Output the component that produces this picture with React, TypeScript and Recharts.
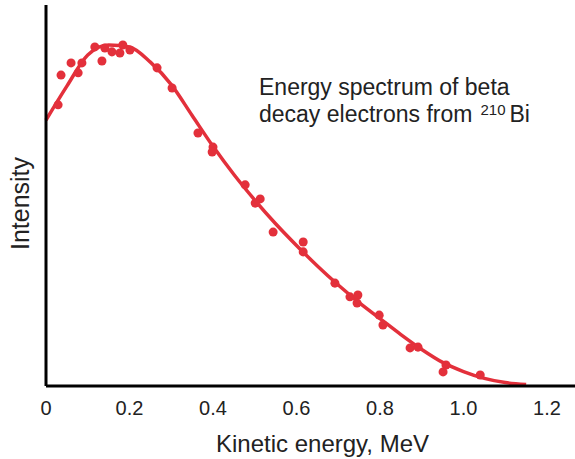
import React from 'react';
import { ComposedChart, Line, Scatter, XAxis, YAxis, Label } from 'recharts';

// Measured points (kinetic energy in MeV, relative intensity)
const pointEnergy = [
  0.029, 0.036, 0.06, 0.077, 0.086, 0.117, 0.134, 0.141, 0.158, 0.177, 0.184, 0.201,
  0.266, 0.302, 0.364, 0.4, 0.398, 0.477, 0.513, 0.501, 0.544, 0.616, 0.616, 0.692,
  0.728, 0.747, 0.745, 0.798, 0.807, 0.872, 0.891, 0.958, 0.951, 1.04,
];
const pointIntensity = [
  73.8, 81.6, 84.8, 82.2, 84.8, 89.0, 85.3, 88.7, 87.7, 87.4, 89.5, 88.2,
  83.5, 78.2, 66.4, 62.7, 61.4, 52.8, 49.1, 48.0, 40.4, 37.8, 35.2, 27.0,
  23.4, 23.9, 21.8, 18.6, 16.0, 10.0, 10.2, 5.5, 3.7, 2.9,
];

// Fitted curve
const curveEnergy = [
  0, 0.05, 0.1, 0.15, 0.2, 0.25, 0.3, 0.35, 0.4, 0.45, 0.5, 0.55,
  0.6, 0.65, 0.7, 0.75, 0.8, 0.85, 0.9, 0.95, 1.0, 1.05, 1.1, 1.15,
];
const curveIntensity = [
  69.8, 78.7, 86.9, 89.5, 89.0, 85.0, 79.1, 71.0, 62.9, 55.5, 48.8, 42.6,
  36.9, 31.5, 26.5, 21.9, 17.7, 13.5, 9.6, 6.2, 3.8, 2.0, 0.9, 0.4,
];

const xTicks = [0, 0.2, 0.4, 0.6, 0.8, 1.0, 1.2];

const red = '#e3303b';
const ink = '#222';

export default function App() {
  const points = pointEnergy.map((x, i) => ({ x, y: pointIntensity[i] }));
  const curve = curveEnergy.map((x, i) => ({ x, y: curveIntensity[i] }));

  return (
    <div
      style={{
        position: 'absolute',
        left: 0,
        top: 0,
        width: 575,
        height: 459,
        background: '#fff',
        fontFamily: '"Liberation Sans", Arial, sans-serif',
      }}
    >
      <ComposedChart width={575} height={459} margin={{ top: 5, right: 0, bottom: 0, left: 0 }}>
        <XAxis
          type="number"
          dataKey="x"
          domain={[0, 1.267]}
          ticks={xTicks}
          tickFormatter={(v: number) => (v === 0 ? '0' : v.toFixed(1))}
          tickLine={false}
          tickSize={0}
          tickMargin={15}
          height={73}
          axisLine={{ stroke: '#000', strokeWidth: 3 }}
          tick={{ fill: ink, fontSize: 20 }}
        >
          <Label
            value="Kinetic energy, MeV"
            position="insideBottom"
            offset={7}
            dx={12}
            style={{ fill: ink, fontSize: 24 }}
          />
        </XAxis>
        <YAxis
          type="number"
          dataKey="y"
          domain={[0, 100]}
          width={46}
          tick={false}
          tickLine={false}
          axisLine={{ stroke: '#000', strokeWidth: 3 }}
        >
          <Label
            content={(props: any) => {
              const vb = props.viewBox || { x: 0, y: 5, width: 46, height: 381 };
              const cx = vb.x + 29;
              const cy = vb.y + vb.height / 2 + 8;
              return (
                <text
                  x={cx}
                  y={cy}
                  transform={`rotate(-90, ${cx}, ${cy})`}
                  textAnchor="middle"
                  fill={ink}
                  fontSize={25}
                >
                  Intensity
                </text>
              );
            }}
          />
        </YAxis>
        <Line
          data={curve}
          dataKey="y"
          type="monotone"
          stroke={red}
          strokeWidth={3.5}
          dot={false}
          activeDot={false}
          isAnimationActive={false}
        />
        <Scatter data={points} dataKey="y" fill={red} isAnimationActive={false} />
      </ComposedChart>
      <svg
        width={575}
        height={459}
        style={{ position: 'absolute', left: 0, top: 0, pointerEvents: 'none' }}
      >
        <text x={259} y={95} fill={ink} fontSize={23}>
          Energy spectrum of beta
        </text>
        <text x={259} y={122} fill={ink} fontSize={23}>
          decay electrons from
          <tspan fontSize={15} dx={8} dy={-7}>210</tspan>
          <tspan dx={4} dy={7}>Bi</tspan>
        </text>
      </svg>
    </div>
  );
}
